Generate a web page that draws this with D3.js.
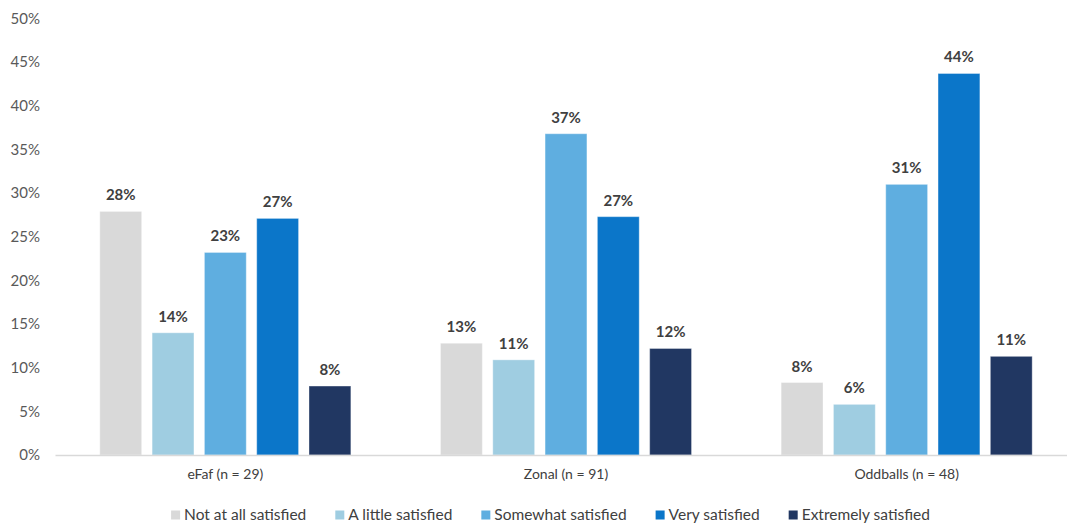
<!DOCTYPE html>
<html>
<head>
<meta charset="utf-8">
<script src="https://cdn.jsdelivr.net/npm/d3@7"></script>
<style>
  html, body { margin: 0; padding: 0; background: #fff; }
  svg { display: block; font-family: "Lato", "Liberation Sans", sans-serif; }
</style>
</head>
<body>
<svg id="chart" width="1067" height="525"></svg>
<script>
// Satisfaction levels by group (share of respondents)
const groups = ["eFaf (n = 29)", "Zonal (n = 91)", "Oddballs (n = 48)"];
const levels = ["Not at all satisfied", "A little satisfied", "Somewhat satisfied", "Very satisfied", "Extremely satisfied"];
const colors = ["#d9d9d9", "#9fcde1", "#5faee0", "#0b76c9", "#213762"];

const notAtAll   = [0.279, 0.128, 0.083];
const aLittle    = [0.140, 0.109, 0.058];
const somewhat   = [0.232, 0.368, 0.310];
const very       = [0.271, 0.273, 0.437];
const extremely  = [0.079, 0.122, 0.113];

const yTicks = [0, 0.05, 0.10, 0.15, 0.20, 0.25, 0.30, 0.35, 0.40, 0.45, 0.50];

const seriesValues = [notAtAll, aLittle, somewhat, very, extremely];
const rows = groups.map((g, gi) => ({
  group: g,
  values: levels.map((l, li) => ({ level: l, value: seriesValues[li][gi] }))
}));

const svg = d3.select("#chart");
const plotLeft = 55, plotRight = 1077, plotTop = 18.5, plotBottom = 455;

const x0 = d3.scaleBand().domain(groups).range([plotLeft, plotRight]).padding(0);
const x1 = d3.scaleBand().domain(levels)
  .range([x0.bandwidth() / 2 - 130.75, x0.bandwidth() / 2 + 130.75])
  .paddingInner(0.2).paddingOuter(0.1);
const y = d3.scaleLinear().domain([0, 0.5]).range([plotBottom, plotTop]);
const color = d3.scaleOrdinal().domain(levels).range(colors);
const pct = d3.format(".0%");

// Y axis labels (no line, no ticks)
const yAxis = d3.axisLeft(y).tickValues(yTicks).tickFormat(pct).tickSize(0).tickPadding(0);
const yg = svg.append("g").attr("transform", `translate(40,0)`).call(yAxis);
yg.select(".domain").remove();
yg.selectAll("text").attr("fill", "#595959").style("font-size", "15px")
  .style("font-family", "Lato, 'Liberation Sans', sans-serif");

// Bars
const gGroups = svg.append("g").selectAll("g").data(rows).join("g")
  .attr("transform", d => `translate(${x0(d.group)},0)`);

gGroups.selectAll("rect").data(d => d.values).join("rect")
  .attr("x", d => x1(d.level))
  .attr("y", d => y(d.value))
  .attr("width", x1.bandwidth())
  .attr("height", d => y(0) - y(d.value))
  .attr("fill", d => color(d.level))
  .attr("stroke", "#ffffff")
  .attr("stroke-opacity", 0.35)
  .attr("stroke-width", 1);

gGroups.selectAll("text.val").data(d => d.values).join("text")
  .attr("class", "val")
  .attr("x", d => x1(d.level) + x1.bandwidth() / 2)
  .attr("y", d => y(d.value) - 11)
  .attr("text-anchor", "middle")
  .attr("fill", "#404040")
  .style("font-size", "15px")
  .style("font-weight", "bold")
  .text(d => pct(d.value));

// X axis baseline and category labels
const xAxis = d3.axisBottom(x0).tickSize(0).tickPadding(14);
const xg = svg.append("g").attr("transform", `translate(0,${plotBottom})`).call(xAxis);
xg.select(".domain").attr("stroke", "#d9d9d9").attr("stroke-width", 1.5);
xg.selectAll("text").attr("fill", "#404040").style("font-size", "14px")
  .style("font-family", "Lato, 'Liberation Sans', sans-serif");

// Legend
const legend = svg.append("g");
const items = legend.selectAll("g").data(levels).join("g");
items.append("rect").attr("width", 9).attr("height", 9).attr("y", -9.5).attr("fill", d => color(d));
items.append("text").attr("x", 13).attr("y", 0).attr("fill", "#404040")
  .style("font-size", "15.5px").text(d => d);
let xpos = 0;
items.each(function () {
  const g = d3.select(this);
  g.attr("transform", `translate(${xpos},520)`);
  xpos += 13 + g.select("text").node().getComputedTextLength() + 29;
});
const total = xpos - 29;
legend.attr("transform", `translate(${550.5 - total / 2},0)`);
</script>
</body>
</html>
